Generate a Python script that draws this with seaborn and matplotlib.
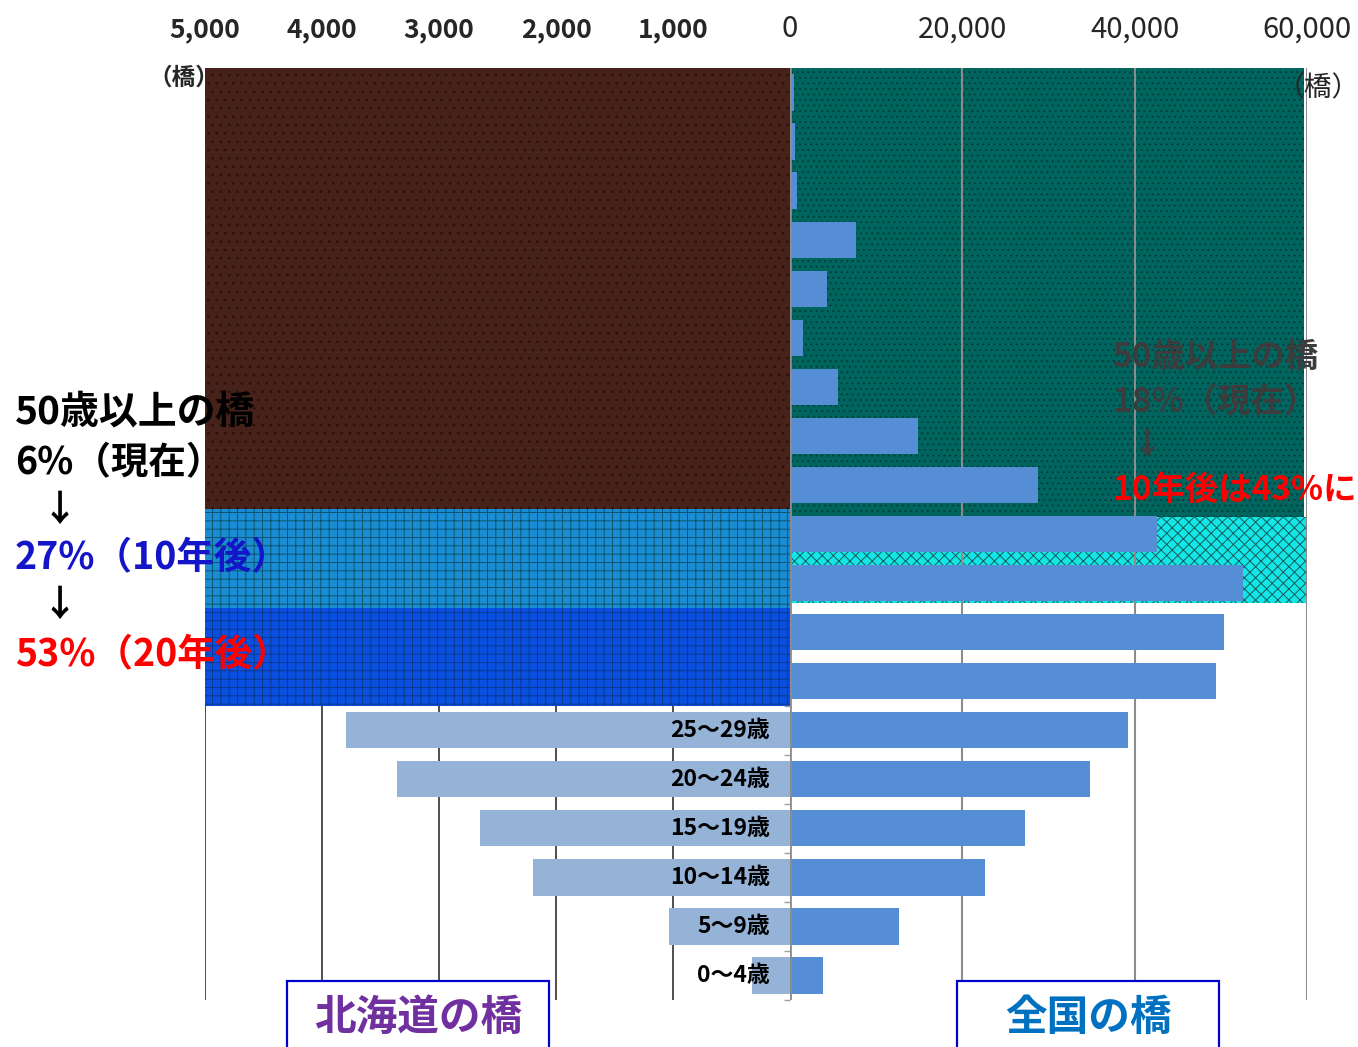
import numpy as np
import pandas as pd
import matplotlib
matplotlib.use('Agg')
import matplotlib.pyplot as plt
from matplotlib.patches import Rectangle
import seaborn as sns

# age groups, oldest at top
ages = ['90歳以上', '85～89歳', '80～84歳', '75～79歳', '70～74歳', '65～69歳',
        '60～64歳', '55～59歳', '50～54歳', '45～49歳', '40～44歳', '35～39歳',
        '30～34歳', '25～29歳', '20～24歳', '15～19歳', '10～14歳', '5～9歳', '0～4歳']
# Hokkaido bridges (upper rows are hidden under the overlays in the source, estimated)
hokkaido = [20, 30, 40, 150, 120, 80, 180, 380, 700, 3100, 2870, 3800, 3590,
            3795, 3359, 2650, 2197, 1034, 325]
# national bridges
national = [500, 600, 800, 7650, 4290, 1500, 5560, 14840, 28750, 42550, 52520,
            50320, 49390, 39190, 34780, 27250, 22600, 12640, 3830]

left_ticks = [5000, 4000, 3000, 2000, 1000]
left_ticklabels = ['5,000', '4,000', '3,000', '2,000', '1,000']
right_ticks = [0, 20000, 40000, 60000]
right_ticklabels = ['0', '20,000', '40,000', '60,000']

sns.set_theme(style='white')
plt.rcParams['font.family'] = ['Noto Sans CJK JP', 'DejaVu Sans']
plt.rcParams['hatch.linewidth'] = 0.7

W, H = 1358, 1047
fig = plt.figure(figsize=(W / 100, H / 100), dpi=100)


def fx(px):
    return px / W


def fy(py):
    return 1 - py / H


top, bot = 68, 1000
axL = fig.add_axes([fx(205), fy(bot), (790 - 205) / W, (bot - top) / H])
axR = fig.add_axes([fx(790), fy(bot), (1307 - 790) / W, (bot - top) / H])

df = pd.DataFrame({'age': ages, 'hokkaido': hokkaido, 'national': national})

sns.barplot(data=df, y='age', x='hokkaido', ax=axL, color='#95B3D7',
            width=0.74, saturation=1, linewidth=0, zorder=2)
sns.barplot(data=df, y='age', x='national', ax=axR, color='#558ED5',
            width=0.74, saturation=1, linewidth=0, zorder=3)

for ax in (axL, axR):
    ax.set_ylim(18.5, -0.5)
    ax.set_xlabel('')
    ax.set_ylabel('')
    ax.set_yticklabels([])
    for s in ax.spines.values():
        s.set_visible(False)
    ax.patch.set_alpha(0)

# left (Hokkaido) side
axL.set_xlim(5000, 0)
for v in left_ticks:
    axL.axvline(v, color='#404040', lw=1.3, zorder=1)
axL.xaxis.tick_top()
axL.set_xticks(left_ticks)
axL.set_xticklabels(left_ticklabels, fontsize=19, fontweight='bold')
axL.tick_params(axis='x', length=0, pad=18)
axL.tick_params(axis='y', length=0)

for i, a in enumerate(ages):
    axL.text(170, i, a, ha='right', va='center', fontsize=16.5,
             fontweight='bold', color='black', zorder=3)

axL.add_patch(Rectangle((0, -0.5), 5000, 9, fc='#46221A', ec='#2A120C',
                        hatch='..', lw=0, zorder=5))
axL.add_patch(Rectangle((0, 8.5), 5000, 2, fc='#1A8CD4', ec='#0E5470',
                        hatch='++', lw=0, zorder=5))
axL.add_patch(Rectangle((0, 10.5), 5000, 2, fc='#0A50E0', ec='#083890',
                        hatch='++', lw=0, zorder=5))

# right (national) side
axR.set_xlim(0, 60000)
axR.add_patch(Rectangle((0, -0.5), 59700, 9.15, fc='#00655F', ec='#003C38',
                        hatch='...', lw=0, zorder=1))
axR.add_patch(Rectangle((0, 8.65), 60000, 1.75, fc='#12E6E6', ec='#1A5A5A',
                        hatch='xxx', lw=0, zorder=1))
for v in right_ticks[1:]:
    axR.axvline(v, color='#8C8C8C', lw=1.5, zorder=2)
axR.axvline(0, color='#8C8C8C', lw=2, zorder=6)
axR.xaxis.tick_top()
axR.set_xticks(right_ticks)
axR.set_xticklabels(right_ticklabels, fontsize=21)
axR.tick_params(axis='x', length=0, pad=17)
axR.set_yticks(np.arange(12.5, 19, 1))
axR.set_yticklabels([])
axR.tick_params(axis='y', left=True, length=4, width=1, color='#A0A0A0',
                direction='out')

# units
fig.text(fx(148), fy(78), '（橋）', fontsize=17, fontweight='bold',
         ha='left', va='center', zorder=20)
fig.text(fx(1318), fy(88), '（橋）', fontsize=20, ha='center', va='center',
         zorder=20)

# left annotations
fig.text(fx(15), fy(413), '50歳以上の橋', fontsize=28, fontweight='bold',
         color='black', ha='left', va='center', zorder=20)
fig.text(fx(15), fy(463), '6%（現在）', fontsize=27, fontweight='bold',
         color='black', ha='left', va='center', zorder=20)
fig.text(fx(60), fy(510), '↓', fontsize=26, fontweight='bold',
         color='black', ha='center', va='center', zorder=20)
fig.text(fx(15), fy(558), '27%（10年後）', fontsize=27, fontweight='bold',
         color='#1414C8', ha='left', va='center', zorder=20)
fig.text(fx(60), fy(605), '↓', fontsize=26, fontweight='bold',
         color='black', ha='center', va='center', zorder=20)
fig.text(fx(15), fy(655), '53%（20年後）', fontsize=27, fontweight='bold',
         color='#FF0000', ha='left', va='center', zorder=20)

# right annotations
fig.text(fx(1112), fy(357), '50歳以上の橋', fontsize=24, fontweight='bold',
         color='#3C3C3C', ha='left', va='center', zorder=20)
fig.text(fx(1112), fy(403), '18%（現在）', fontsize=24, fontweight='bold',
         color='#3C3C3C', ha='left', va='center', zorder=20)
fig.text(fx(1147), fy(445), '↓', fontsize=22, fontweight='bold',
         color='#3C3C3C', ha='center', va='center', zorder=20)
fig.text(fx(1112), fy(490), '10年後は43%に', fontsize=24, fontweight='bold',
         color='#FF0000', ha='left', va='center', zorder=20)

# bottom title boxes
for x0, x1, label, col in [(287, 549, '北海道の橋', '#7030A0'),
                           (957, 1219, '全国の橋', '#0070C0')]:
    fig.patches.append(Rectangle((fx(x0), fy(1070)), (x1 - x0) / W, (1070 - 981) / H,
                                 transform=fig.transFigure, fc='white',
                                 ec='#0000CC', lw=1.6, zorder=10))
    fig.text(fx((x0 + x1) / 2), fy(1018), label, fontsize=30, fontweight='bold',
             color=col, ha='center', va='center', zorder=11)

fig.savefig('out.png', dpi=100)
